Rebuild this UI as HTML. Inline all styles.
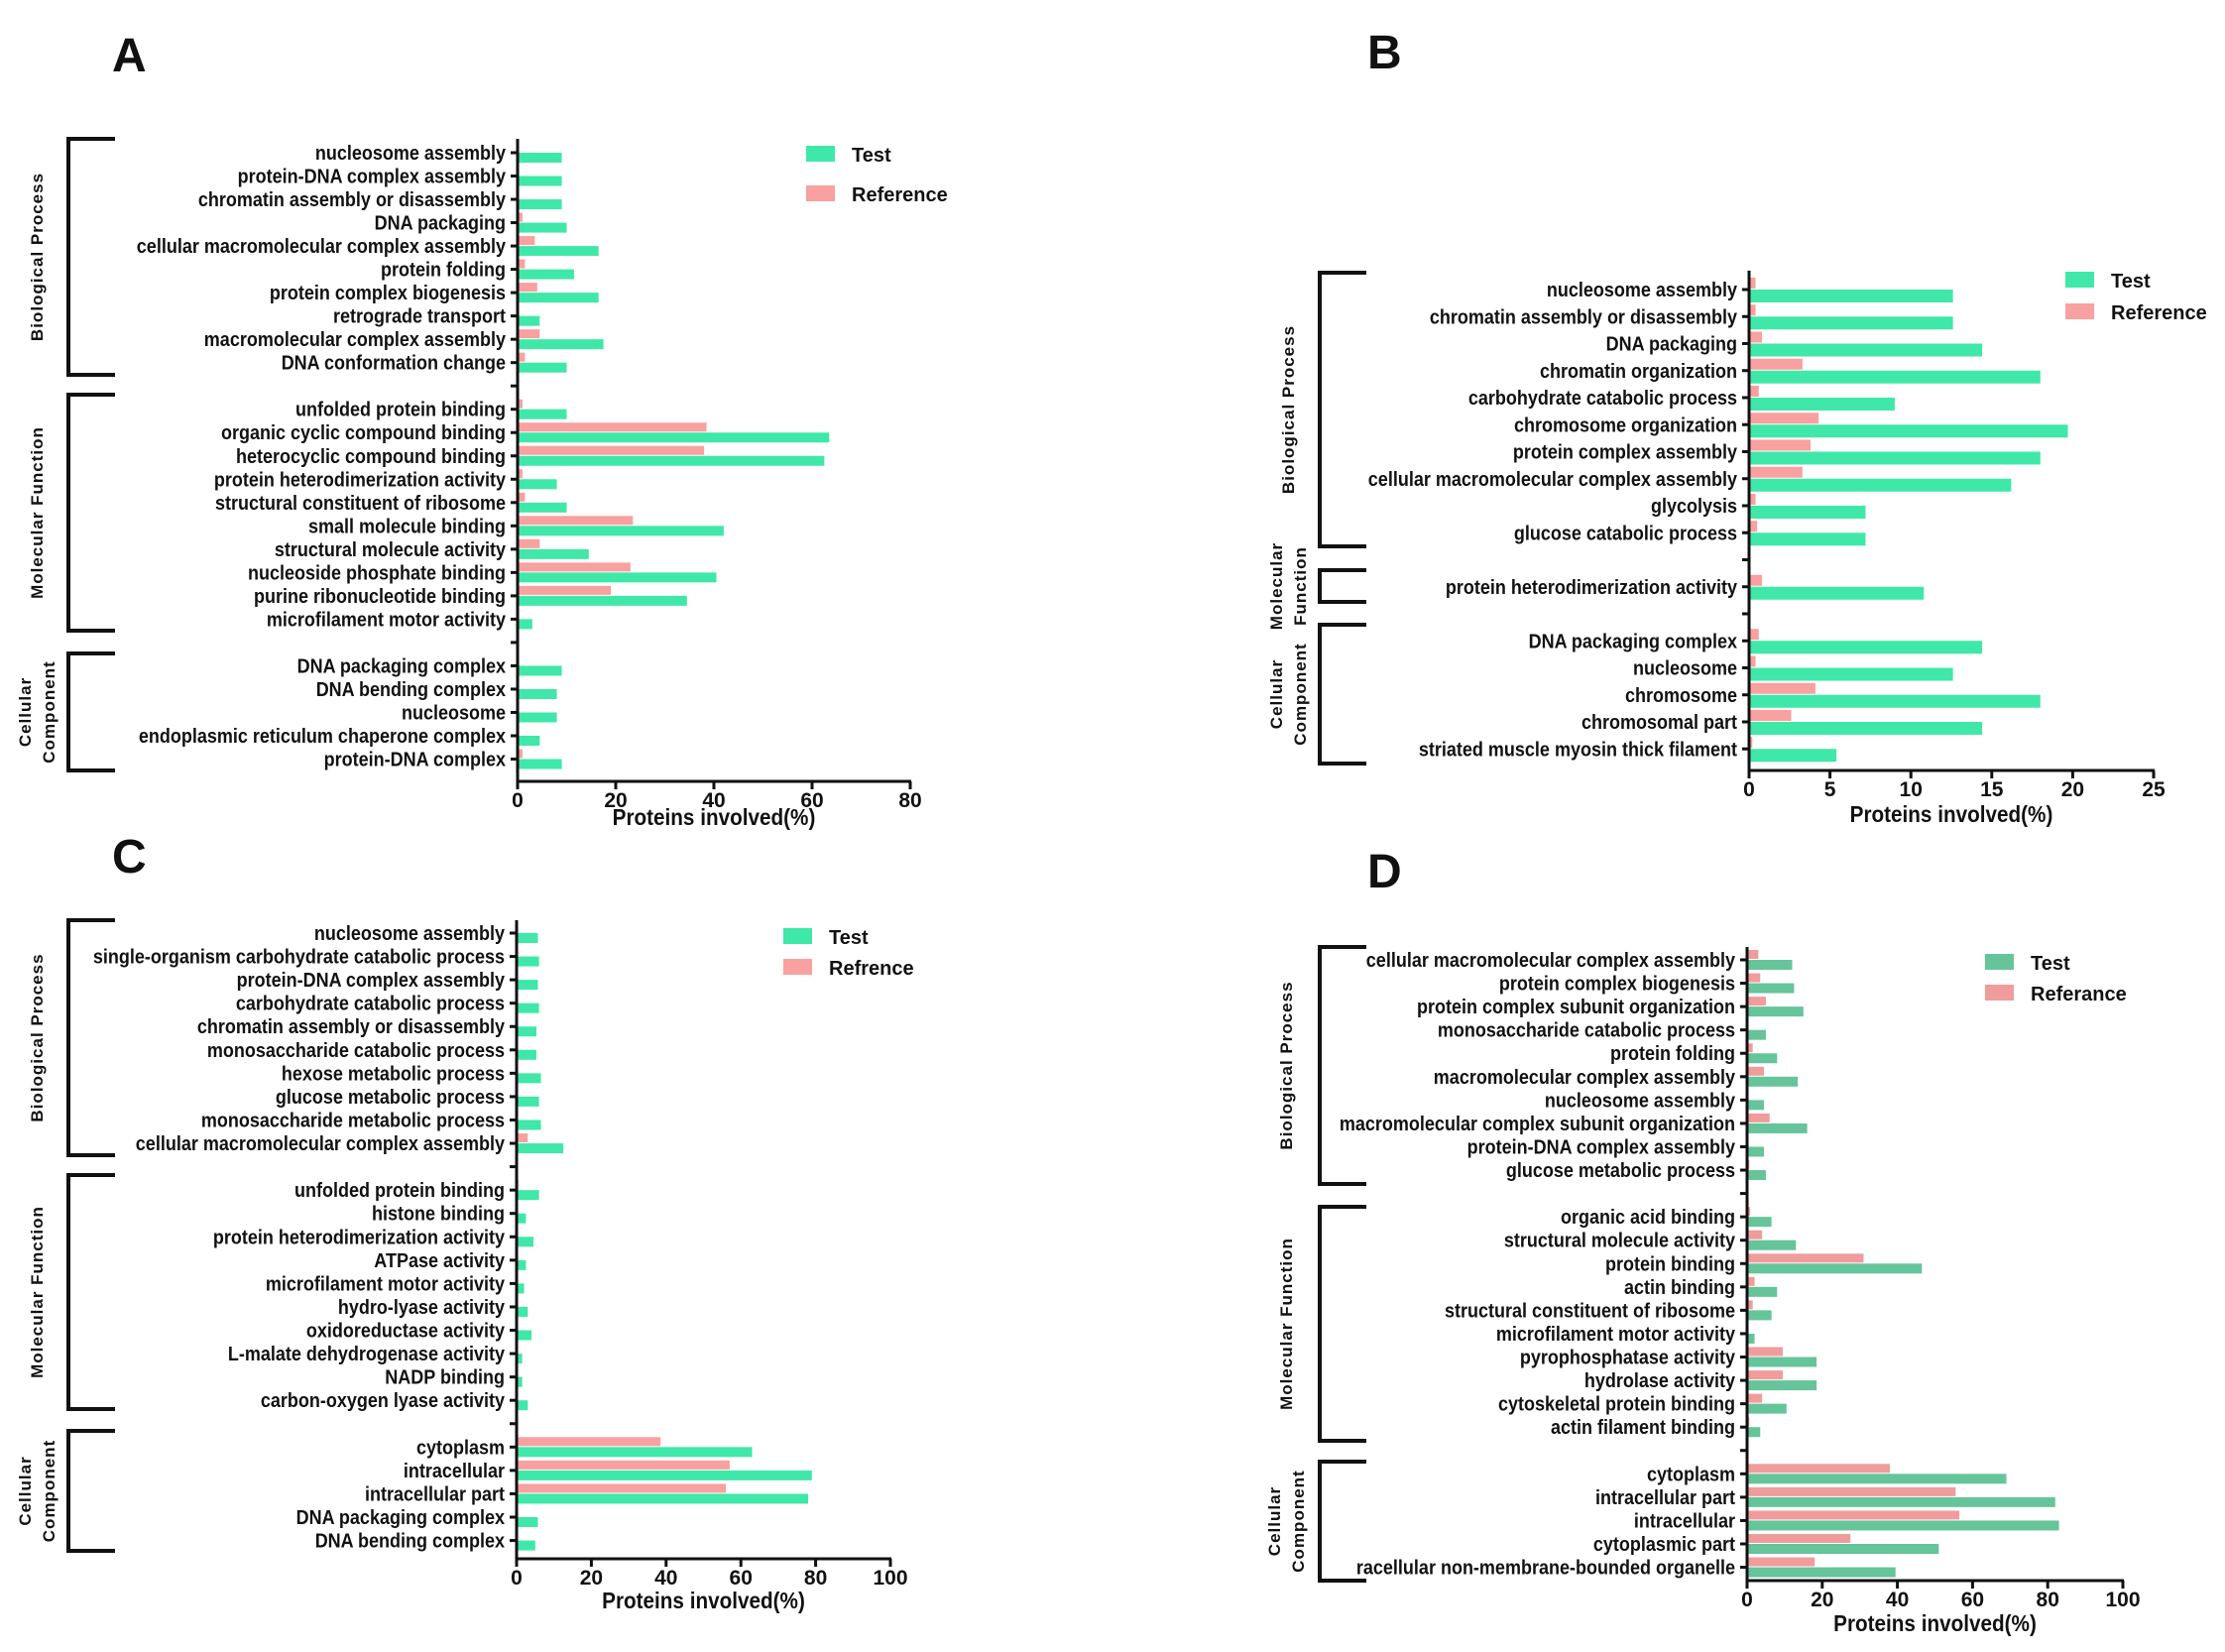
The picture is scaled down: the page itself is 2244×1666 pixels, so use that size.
<!DOCTYPE html>
<html><head><meta charset="utf-8">
<style>
html,body{margin:0;padding:0;background:#fff;}
svg{display:block;}
text{font-family:"Liberation Sans Narrow","Liberation Sans",sans-serif;fill:#111;}
.lbl{font-size:20px;font-weight:bold;}
.grp{font-family:"Liberation Sans",sans-serif;font-size:17px;font-weight:bold;letter-spacing:1px;}
.tick{font-size:21px;font-weight:bold;}
.ttl{font-size:23px;font-weight:bold;}
.leg{font-family:"Liberation Sans",sans-serif;font-size:20px;font-weight:bold;}
.pl{font-family:"Liberation Sans",sans-serif;font-size:48px;font-weight:bold;}
</style></head>
<body>
<svg id="chart" width="2244" height="1666" viewBox="0 0 2244 1666" xmlns="http://www.w3.org/2000/svg">
<rect width="2244" height="1666" fill="#fff"/>
<text class="pl" x="113" y="72">A</text>
<text class="pl" x="1379" y="69">B</text>
<text class="pl" x="113" y="880">C</text>
<text class="pl" x="1379" y="895">D</text>
</svg>
<script>
// ---- Panel A data ----
const catsA = ["nucleosome assembly","protein-DNA complex assembly","chromatin assembly or disassembly","DNA packaging","cellular macromolecular complex assembly","protein folding","protein complex biogenesis","retrograde transport","macromolecular complex assembly","DNA conformation change","","unfolded protein binding","organic cyclic compound binding","heterocyclic compound binding","protein heterodimerization activity","structural constituent of ribosome","small molecule binding","structural molecule activity","nucleoside phosphate binding","purine ribonucleotide binding","microfilament motor activity","","DNA packaging complex","DNA bending complex","nucleosome","endoplasmic reticulum chaperone complex","protein-DNA complex"];
const testA = [9,9,9,10,16.5,11.5,16.5,4.5,17.5,10,null,10,63.5,62.5,8,10,42,14.5,40.5,34.5,3,null,9,8,8,4.5,9];
const refA = [0.3,0.3,0.3,1,3.5,1.5,4,0,4.5,1.5,null,1,38.5,38,1,1.5,23.5,4.5,23,19,0,null,0.3,0.3,0.3,0,1];
const ticksA = [0,20,40,60,80];
// ---- Panel B data ----
const catsB = ["nucleosome assembly","chromatin assembly or disassembly","DNA packaging","chromatin organization","carbohydrate catabolic process","chromosome organization","protein complex assembly","cellular macromolecular complex assembly","glycolysis","glucose catabolic process","","protein heterodimerization activity","","DNA packaging complex","nucleosome","chromosome","chromosomal part","striated muscle myosin thick filament"];
const testB = [12.6,12.6,14.4,18,9,19.7,18,16.2,7.2,7.2,null,10.8,null,14.4,12.6,18,14.4,5.4];
const refB = [0.4,0.4,0.8,3.3,0.6,4.3,3.8,3.3,0.4,0.5,null,0.8,null,0.6,0.4,4.1,2.6,0.2];
const ticksB = [0,5,10,15,20,25];
// ---- Panel C data ----
const catsC = ["nucleosome assembly","single-organism carbohydrate catabolic process","protein-DNA complex assembly","carbohydrate catabolic process","chromatin assembly or disassembly","monosaccharide catabolic process","hexose metabolic process","glucose metabolic process","monosaccharide metabolic process","cellular macromolecular complex assembly","","unfolded protein binding","histone binding","protein heterodimerization activity","ATPase activity","microfilament motor activity","hydro-lyase activity","oxidoreductase activity","L-malate dehydrogenase activity","NADP binding","carbon-oxygen lyase activity","","cytoplasm","intracellular","intracellular part","DNA packaging complex","DNA bending complex"];
const testC = [5.7,6,5.7,6,5.3,5.3,6.5,6,6.5,12.5,null,6,2.5,4.5,2.5,2,3,4,1.5,1.5,3,null,63,79,78,5.7,5];
const refC = [0.3,0.3,0.3,0.3,0.3,0.3,0.3,0.3,0.3,3,null,0.5,0,0,0,0,0,0,0,0,0,null,38.5,57,56,0.3,0.3];
const ticksC = [0,20,40,60,80,100];
// ---- Panel D data ----
const catsD = ["cellular macromolecular complex assembly","protein complex biogenesis","protein complex subunit organization","monosaccharide catabolic process","protein folding","macromolecular complex assembly","nucleosome assembly","macromolecular complex subunit organization","protein-DNA complex assembly","glucose metabolic process","","organic acid binding","structural molecule activity","protein binding","actin binding","structural constituent of ribosome","microfilament motor activity","pyrophosphatase activity","hydrolase activity","cytoskeletal protein binding","actin filament binding","","cytoplasm","intracellular part","intracellular","cytoplasmic part","racellular non-membrane-bounded organelle"];
const testD = [12,12.5,15,5,8,13.5,4.5,16,4.5,5,null,6.5,13,46.5,8,6.5,2,18.5,18.5,10.5,3.5,null,69,82,83,51,39.5];
const refD = [3,3.5,5,0.3,1.5,4.5,0.3,6,0.3,0.6,null,0.8,4,31,2,1.5,0,9.5,9.5,4,0.6,null,38,55.5,56.5,27.5,18];
const ticksD = [0,20,40,60,80,100];

const svg = document.getElementById('chart');
const NS = 'http://www.w3.org/2000/svg';
function mk(tag, attrs, parent){
  const e = document.createElementNS(NS, tag);
  for (const k in attrs) e.setAttribute(k, attrs[k]);
  (parent||svg).appendChild(e);
  return e;
}
function narrow(t, f){
  const w = t.getComputedTextLength();
  if (w > 0) { t.setAttribute('textLength', (w*f).toFixed(1)); t.setAttribute('lengthAdjust', 'spacingAndGlyphs'); }
}

function panel(p){
  const g = mk('g', {});
  
  
  const xs = v => p.x0 + (v / p.max) * (p.x1 - p.x0);
  const ys = i => p.yFirst + i * p.step;
  p.cats.forEach((c, i) => {
    const cy = ys(i);
    const tk = mk('line', {x1:p.x0-7, x2:p.x0, y1:cy, y2:cy, stroke:'#111','stroke-width':3}, g);
    
    
    if (c === '') return;
    const t = mk('text', {x:p.x0-12, y:cy+7, 'text-anchor':'end', class:'lbl'}, g);
    t.textContent = c;
    
    
    narrow(t, 0.9);
    const rv = p.ref[i], tv = p.test[i];
    if (rv > 0) {
      const r = mk('rect', {x:p.x0, y:cy-p.rh-1, width:xs(rv)-p.x0, height:p.rh, fill:p.refColor}, g);
      
      
    }
    if (tv > 0) {
      const r = mk('rect', {x:p.x0, y:cy, width:xs(tv)-p.x0, height:p.th, fill:p.testColor}, g);
      
      
    }
  });
  const ya = mk('line', {x1:p.x0, x2:p.x0, y1:p.top, y2:p.bottom, stroke:'#111','stroke-width':3}, g);
  
  
  const xa = mk('line', {x1:p.x0-1, x2:p.x1+1, y1:p.bottom, y2:p.bottom, stroke:'#111','stroke-width':3}, g);
  
  
  p.ticks.forEach(v => {
    const x = xs(v);
    const l = mk('line', {x1:x, x2:x, y1:p.bottom, y2:p.bottom+8, stroke:'#111','stroke-width':3}, g);
    
    
    const t = mk('text', {x:x, y:p.bottom+26, 'text-anchor':'middle', class:'tick'}, g);
    t.textContent = v;
    
    
  });
  const tt = mk('text', {x:(p.x0+p.x1)/2, y:p.bottom+p.tty, 'text-anchor':'middle', class:'ttl'}, g);
  tt.textContent = 'Proteins involved(%)';
  
  
  narrow(tt, 0.9);
  p.groups.forEach(gr => {
    const b = mk('path', {d:`M${p.bx2} ${gr[0]} H${p.bx} V${gr[1]} H${p.bx2}`, fill:'none', stroke:'#111','stroke-width':4}, g);
    
    
    const cy = (gr[0]+gr[1])/2;
    const lines = gr[2];
    lines.forEach((ln, k) => {
      const lx = p.gx + (k - (lines.length-1)/2) * 24;
      const t = mk('text', {x:lx, y:cy, 'text-anchor':'middle', class:'grp', transform:`rotate(-90 ${lx} ${cy})`, dy:6}, g);
      t.textContent = ln;
      
      
    });
  });
  const lt = mk('rect', {x:p.lx, y:p.ly1, width:29, height:16, fill:p.testColor}, g);
  
  
  const ltt = mk('text', {x:p.lx+46, y:p.ly1+16, class:'leg'}, g);
  ltt.textContent = 'Test';
  
  
  const lr = mk('rect', {x:p.lx, y:p.ly2, width:29, height:16, fill:p.refColor}, g);
  
  
  const lrt = mk('text', {x:p.lx+46, y:p.ly2+16, class:'leg'}, g);
  lrt.textContent = p.refName;
  
  
}

const G1 = '#3fe8a8', R1 = '#f9a0a0';
panel({id:'a', cats:catsA, test:testA, ref:refA, ticks:ticksA, max:80, x0:522, x1:918, top:140, bottom:788,
  yFirst:154, step:23.52, th:10, rh:9, testColor:G1, refColor:R1, tty:44,
  bx:69, bx2:116, gx:37, groups:[[140,378,['Biological Process']],[398,636,['Molecular Function']],[659,777,['Cellular','Component']]],
  lx:813, ly1:147, ly2:187, refName:'Reference'});
panel({id:'b', cats:catsB, test:testB, ref:refB, ticks:ticksB, max:25, x0:1764, x1:2172, top:273, bottom:777,
  yFirst:292, step:27.25, th:13, rh:11, testColor:G1, refColor:R1, tty:52,
  bx:1331, bx2:1378, gx:1299, groups:[[275,551,['Biological Process']],[575,607,['Molecular','Function']],[630,770,['Cellular','Component']]],
  lx:2083, ly1:274, ly2:306, refName:'Reference'});
panel({id:'c', cats:catsC, test:testC, ref:refC, ticks:ticksC, max:100, x0:521, x1:898, top:928, bottom:1572,
  yFirst:941, step:23.56, th:10, rh:9, testColor:G1, refColor:R1, tty:50,
  bx:69, bx2:116, gx:37, groups:[[928,1165,['Biological Process']],[1185,1421,['Molecular Function']],[1443,1564,['Cellular','Component']]],
  lx:790, ly1:936, ly2:967, refName:'Refrence'});
panel({id:'d', cats:catsD, test:testD, ref:refD, ticks:ticksD, max:100, x0:1762, x1:2141, top:955, bottom:1594,
  yFirst:968, step:23.56, th:10, rh:9, testColor:'#66c49a', refColor:'#f09c9c', tty:51,
  bx:1331, bx2:1378, gx:1297, groups:[[955,1194,['Biological Process']],[1217,1453,['Molecular Function']],[1474,1594,['Cellular','Component']]],
  lx:2002, ly1:962, ly2:993, refName:'Referance'});
</script>
</body></html>
